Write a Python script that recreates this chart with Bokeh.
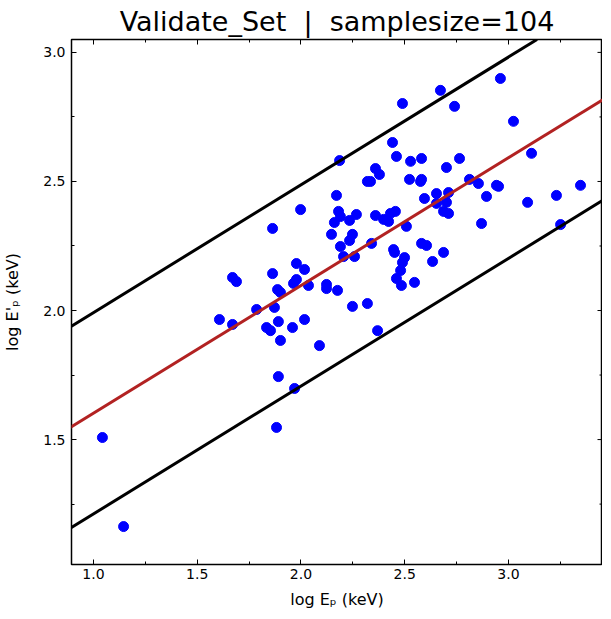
from bokeh.plotting import figure
from bokeh.models import (Range1d, LinearAxis, SingleIntervalTicker, Slope, ColumnDataSource,
                          PrintfTickFormatter, CustomJSTickFormatter)
from bokeh.embed import file_html
from bokeh.resources import INLINE

# ---- data ----
log_ep = [1.043, 1.145, 1.607, 1.670, 1.689, 1.670, 1.786, 1.834, 1.853, 1.863,
          1.863, 1.872, 1.887, 1.901, 1.891, 1.901, 1.891, 1.882, 1.969, 1.959,
          2.017, 2.089, 2.248, 2.320, 2.369, 2.186, 2.359, 2.378, 2.320, 2.335,
          2.171, 1.998, 2.181, 2.190, 2.161, 2.234, 2.267, 2.359, 2.398, 2.422,
          2.431, 2.455, 2.441, 2.460, 2.147, 2.248, 2.234, 2.190, 2.340, 2.205,
          2.258, 2.446, 2.451, 1.978, 2.017, 1.978, 1.964, 2.036, 2.123, 2.123,
          2.176, 2.460, 2.484, 2.961, 2.672, 2.489, 2.740, 3.024, 2.528, 2.581,
          2.764, 2.701, 3.111, 2.523, 2.581, 2.576, 2.812, 2.855, 2.942, 2.952,
          3.347, 3.231, 3.092, 2.653, 2.711, 2.894, 2.595, 2.653, 2.701, 2.687,
          2.711, 2.870, 3.251, 2.508, 2.581, 2.605, 2.687, 2.499, 2.489, 2.634,
          2.480, 2.547]
log_ep_prime = [1.508, 1.163, 1.965, 2.128, 2.112, 1.946, 2.004, 1.934, 1.922, 2.318,
                2.143, 2.012, 2.081, 2.070, 1.957, 1.884, 1.744, 1.547, 1.698, 1.934,
                1.965, 1.864, 2.016, 2.027, 1.922, 2.581, 2.550, 2.527, 2.500, 2.500,
                2.446, 2.391, 2.384, 2.364, 2.341, 2.349, 2.372, 2.368, 2.353, 2.345,
                2.376, 2.384, 2.651, 2.597, 2.295, 2.295, 2.271, 2.248, 2.260, 2.209,
                2.209, 2.236, 2.225, 2.182, 2.159, 2.120, 2.105, 2.097, 2.101, 2.085,
                2.078, 2.124, 2.097, 2.899, 2.853, 2.802, 2.791, 2.733, 2.578, 2.589,
                2.589, 2.554, 2.609, 2.508, 2.508, 2.500, 2.508, 2.492, 2.485, 2.481,
                2.485, 2.446, 2.419, 2.453, 2.457, 2.442, 2.434, 2.415, 2.419, 2.384,
                2.376, 2.337, 2.333, 2.326, 2.260, 2.252, 2.225, 2.205, 2.186, 2.190,
                2.155, 2.109]

fit_slope = 0.495
fit_intercept = 1.107
band_offset = 0.39

# tick values for the right-hand (unlabelled) axis
y_major_ticks = [1.5, 2.0, 2.5, 3.0]
y_minor_ticks = [1.25, 1.75, 2.25, 2.75]

title_text = "Validate_Set \u00a0|\u00a0 samplesize=104"
x_label = "log E\u209a (keV)"
y_label = "log E'\u209a (keV)"

FONT = "DejaVu Sans"
X_END = 3.453

p = figure(width=602, height=611,
           min_border_left=0, min_border_right=0, min_border_top=0, min_border_bottom=0,
           x_range=Range1d(0.894, X_END), y_range=Range1d(1.016, 3.05),
           output_backend="svg", toolbar_location=None,
           x_axis_location=None, y_axis_location=None)

p.title.text = title_text
p.title.align = "center"
p.title.text_font = FONT
p.title.text_font_size = "27px"
p.title.text_font_style = "normal"
p.title.text_color = "black"
p.title.standoff = 6

p.xgrid.visible = False
p.ygrid.visible = False
p.outline_line_color = "black"
p.outline_line_width = 1.5

def style_axis(ax, labels=True):
    ax.axis_line_color = "black"
    ax.major_tick_in = 5
    ax.major_tick_out = 0
    ax.minor_tick_in = 3
    ax.minor_tick_out = 0
    ax.major_tick_line_color = "black"
    ax.minor_tick_line_color = "black"
    ax.major_label_text_font = FONT
    ax.major_label_text_font_size = "14px"
    ax.major_label_text_color = "black"
    ax.axis_label_text_font = FONT
    ax.axis_label_text_font_size = "16px"
    ax.axis_label_text_font_style = "normal"
    ax.axis_label_text_color = "black"
    if labels:
        ax.formatter = PrintfTickFormatter(format="%.1f")
    else:
        ax.formatter = CustomJSTickFormatter(code="return ''")
        ax.major_label_text_font_size = "1px"
        ax.major_label_standoff = 0
        ax.axis_label_standoff = 0

xb = LinearAxis(ticker=SingleIntervalTicker(interval=0.5, num_minor_ticks=2), axis_label=x_label)
style_axis(xb)
xb.major_label_standoff = 4
xb.axis_label_standoff = 8
p.add_layout(xb, "below")

yl = LinearAxis(ticker=SingleIntervalTicker(interval=0.5, num_minor_ticks=2), axis_label=y_label)
style_axis(yl)
yl.major_label_standoff = 6
yl.axis_label_standoff = 18
p.add_layout(yl, "left")

xt = LinearAxis(ticker=SingleIntervalTicker(interval=0.5, num_minor_ticks=2))
style_axis(xt, labels=False)
p.add_layout(xt, "above")

p.add_layout(Slope(gradient=fit_slope, y_intercept=fit_intercept + band_offset,
                   line_color="black", line_width=3))
p.add_layout(Slope(gradient=fit_slope, y_intercept=fit_intercept - band_offset,
                   line_color="black", line_width=3))
p.add_layout(Slope(gradient=fit_slope, y_intercept=fit_intercept,
                   line_color="#b22222", line_width=3))

src = ColumnDataSource(data=dict(x=log_ep, y=log_ep_prime))
p.scatter("x", "y", source=src, size=10, fill_color="#0000ff", line_color="#0000ff")

# inward ticks on the right edge of the frame
p.scatter(x=[X_END] * len(y_major_ticks), y=y_major_ticks, marker="dash",
          size=10, line_color="black", line_width=1)
p.scatter(x=[X_END] * len(y_minor_ticks), y=y_minor_ticks, marker="dash",
          size=6, line_color="black", line_width=1)

open("out.html", "w").write(file_html(p, INLINE))
